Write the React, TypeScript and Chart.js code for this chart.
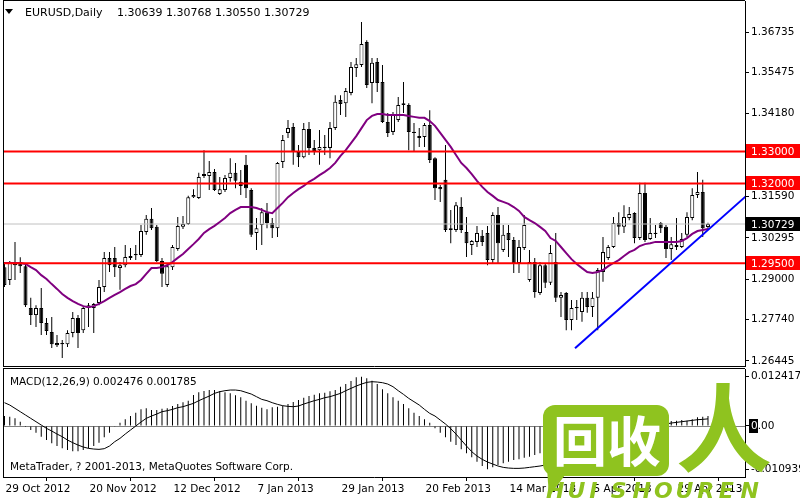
import React, { useEffect, useRef } from 'react';
import { Chart, registerables } from 'chart.js';
Chart.register(...registerables);

// ---------- DATA (EURUSD daily, bar index 0 = 29 Oct 2012) ----------
const opens = [
  1.2938,1.2898,1.2954,1.2954,1.2941,1.2810,1.2788,1.2810,1.2763,1.2735,
  1.2701,1.2697,1.2697,1.2732,1.2779,1.2741,1.2810,1.2810,1.2826,1.2876,
  1.2967,1.2967,1.2935,1.2944,1.2973,1.2979,1.2976,1.3048,1.3089,1.3064,
  1.2957,1.2882,1.2938,1.2995,1.3064,1.3073,1.3157,1.3154,1.3229,1.3223,
  1.3236,1.3167,1.3179,1.3217,1.3233,1.3205,1.3258,1.3179,1.3045,1.3070,
  1.3110,1.3076,1.3060,1.3267,1.3358,1.3376,1.3298,1.3282,1.3370,1.3311,
  1.3304,1.3314,1.3311,1.3373,1.3461,1.3451,1.3483,1.3561,1.3570,1.3642,
  1.3514,1.3580,1.3517,1.3392,1.3361,1.3398,1.3445,1.3445,1.3361,1.3342,
  1.3345,1.3383,1.3279,1.3189,1.3211,1.3054,1.3054,1.3126,1.3048,1.3007,
  1.3017,1.3036,1.3045,1.2960,1.3101,1.2992,1.3045,1.3023,1.2951,1.2998,
  1.2898,1.2954,1.2857,1.2944,1.2889,1.2954,1.2842,1.2857,1.2773,1.2813,
  1.2798,1.2842,1.2813,1.2842,1.2923,1.2967,1.3001,1.3076,1.3064,1.3092,
  1.3107,1.3029,1.3170,1.3026,1.3045,1.3076,1.3064,1.2995,1.3007,1.3001,
  1.3039,1.3092,1.3164,1.3173,1.30639,
];
const highs = [
  1.2954,1.2957,1.3017,1.2969,1.2948,1.2842,1.2819,1.2873,1.2779,1.2782,
  1.2726,1.2710,1.2741,1.2798,1.2788,1.2813,1.2826,1.2826,1.2898,1.2985,
  1.2985,1.3001,1.2954,1.3007,1.2998,1.3007,1.3070,1.3101,1.3123,1.3070,
  1.2967,1.2951,1.3007,1.3095,1.3098,1.3161,1.3182,1.3233,1.3304,1.3270,
  1.3245,1.3220,1.3226,1.3279,1.3264,1.3242,1.3289,1.3185,1.3092,1.3123,
  1.3139,1.3092,1.3267,1.3351,1.3398,1.3389,1.3320,1.3389,1.3392,1.3336,
  1.3367,1.3351,1.3392,1.3476,1.3476,1.3498,1.3580,1.3592,1.3705,1.3648,
  1.3592,1.3592,1.3570,1.3420,1.3423,1.3470,1.3517,1.3451,1.3389,1.3373,
  1.3389,1.3429,1.3282,1.3195,1.3320,1.3117,1.3142,1.3157,1.3095,1.3023,
  1.3067,1.3054,1.3067,1.3110,1.3126,1.3070,1.3070,1.3032,1.3023,1.3101,
  1.2992,1.2967,1.2954,1.2951,1.3007,1.3045,1.2860,1.2860,1.2835,1.2835,
  1.2860,1.2860,1.2860,1.2935,1.3032,1.3007,1.3095,1.3110,1.3132,1.3126,
  1.3110,1.3202,1.3202,1.3092,1.3070,1.3079,1.3070,1.3032,1.3092,1.3045,
  1.3110,1.3185,1.3236,1.3211,1.30768,
];
const lows = [
  1.2876,1.2882,1.2898,1.2920,1.2813,1.2757,1.2751,1.2726,1.2726,1.2685,
  1.2688,1.2654,1.2688,1.2719,1.2685,1.2732,1.2751,1.2732,1.2819,1.2860,
  1.2923,1.2907,1.2867,1.2938,1.2960,1.2960,1.2970,1.3039,1.3054,1.2954,
  1.2876,1.2876,1.2929,1.2989,1.3057,1.3070,1.3154,1.3151,1.3217,1.3179,
  1.3176,1.3164,1.3173,1.3205,1.3185,1.3164,1.3154,1.3032,1.2992,1.3007,
  1.3060,1.3029,1.3032,1.3248,1.3342,1.3258,1.3251,1.3279,1.3289,1.3289,
  1.3258,1.3289,1.3279,1.3367,1.3414,1.3408,1.3476,1.3533,1.3564,1.3498,
  1.3451,1.3486,1.3389,1.3345,1.3351,1.3392,1.3420,1.3304,1.3298,1.3314,
  1.3314,1.3264,1.3148,1.3142,1.3048,1.3013,1.3048,1.3045,1.2970,1.2976,
  1.3001,1.3004,1.2944,1.2951,1.2951,1.2985,1.2970,1.2920,1.2920,1.2992,
  1.2892,1.2842,1.2851,1.2873,1.2882,1.2829,1.2782,1.2741,1.2741,1.2773,
  1.2767,1.2795,1.2782,1.2741,1.2892,1.2960,1.2998,1.3039,1.3045,1.3085,
  1.3013,1.3023,1.3017,1.3023,1.3029,1.3045,1.2967,1.2960,1.2992,1.2998,
  1.3032,1.3085,1.3154,1.3032,1.30550,
];
const closes = [
  1.2882,1.2954,1.2944,1.2941,1.2819,1.2788,1.2810,1.2763,1.2738,1.2697,
  1.2694,1.2701,1.2732,1.2779,1.2732,1.2810,1.2819,1.2823,1.2876,1.2967,
  1.2944,1.2938,1.2944,1.2970,1.2967,1.2976,1.3051,1.3089,1.3060,1.2957,
  1.2917,1.2941,1.3001,1.3067,1.3073,1.3157,1.3164,1.3220,1.3223,1.3236,
  1.3179,1.3182,1.3217,1.3233,1.3208,1.3192,1.3185,1.3039,1.3060,1.3110,
  1.3076,1.3060,1.3264,1.3336,1.3373,1.3298,1.3282,1.3370,1.3311,1.3301,
  1.3314,1.3311,1.3373,1.3455,1.3448,1.3489,1.3564,1.3573,1.3636,1.3508,
  1.3577,1.3514,1.3392,1.3358,1.3414,1.3445,1.3451,1.3361,1.3358,1.3348,
  1.3383,1.3273,1.3185,1.3182,1.3054,1.3060,1.3132,1.3054,1.3013,1.3020,
  1.3045,1.3017,1.2960,1.3101,1.3013,1.3039,1.3023,1.2951,1.3001,1.3070,
  1.2954,1.2860,1.2944,1.2889,1.2982,1.2842,1.2851,1.2773,1.2810,1.2810,
  1.2842,1.2813,1.2842,1.2929,1.2985,1.3001,1.3076,1.3064,1.3095,1.3104,
  1.3029,1.3170,1.3023,1.3045,1.3042,1.3060,1.2995,1.3010,1.3001,1.3026,
  1.3095,1.3164,1.3173,1.3060,1.30729,
];
const maValues = [
  1.2951,1.2951,1.2951,1.2951,1.2948,1.2938,1.2929,1.2913,1.2901,1.2885,
  1.2870,1.2854,1.2842,1.2832,1.2823,1.2816,1.2813,1.2816,1.2823,1.2832,
  1.2842,1.2851,1.2860,1.2870,1.2879,1.2885,1.2898,1.2917,1.2935,1.2935,
  1.2938,1.2944,1.2954,1.2967,1.2979,1.2995,1.3010,1.3026,1.3045,1.3057,
  1.3067,1.3079,1.3092,1.3107,1.3117,1.3126,1.3126,1.3126,1.3123,1.3117,
  1.3110,1.3107,1.3123,1.3139,1.3157,1.3170,1.3182,1.3192,1.3205,1.3214,
  1.3226,1.3236,1.3248,1.3264,1.3286,1.3304,1.3326,1.3348,1.3373,1.3398,
  1.3411,1.3417,1.3417,1.3414,1.3414,1.3414,1.3414,1.3411,1.3408,1.3405,
  1.3405,1.3395,1.3380,1.3358,1.3336,1.3314,1.3289,1.3264,1.3248,1.3229,
  1.3208,1.3189,1.3173,1.3161,1.3148,1.3142,1.3136,1.3126,1.3114,1.3095,
  1.3085,1.3076,1.3064,1.3051,1.3029,1.3020,1.3001,1.2982,1.2963,1.2948,
  1.2935,1.2923,1.2920,1.2923,1.2929,1.2941,1.2951,1.2960,1.2973,1.2985,
  1.2992,1.3004,1.3010,1.3013,1.3017,1.3017,1.3017,1.3017,1.3017,1.3020,
  1.3029,1.3042,1.3051,1.3054,1.3057,
];
const macdHist = [
  0.002496,0.002328,0.001908,0.001067,-0.000026,-0.001035,-0.001707,-0.002716,-0.003557,-0.004398,
  -0.00507,-0.005659,-0.006079,-0.006415,-0.006415,-0.006079,-0.005659,-0.00507,-0.004229,-0.002884,
  -0.001707,-0.000194,0.000815,0.001656,0.002496,0.003337,0.004178,0.00443,0.004009,0.004009,
  0.004346,0.00443,0.005018,0.005523,0.005943,0.006363,0.007793,0.008465,0.008801,0.009054,
  0.009054,0.008801,0.008465,0.008213,0.007709,0.007204,0.006363,0.005691,0.005102,0.004598,
  0.004178,0.004682,0.00485,0.005102,0.005523,0.006027,0.006532,0.00712,0.00754,0.007877,
  0.008213,0.008381,0.008717,0.009054,0.009894,0.010567,0.011324,0.012248,0.012417,0.011996,
  0.011408,0.010567,0.009222,0.008213,0.007204,0.006363,0.005523,0.00443,0.003337,0.002496,
  0.001656,0.000815,-0.000614,-0.001707,-0.002884,-0.003977,-0.004818,-0.005911,-0.00692,-0.007928,
  -0.009021,-0.010114,-0.010939,-0.01045,-0.009862,-0.009442,-0.009021,-0.008601,-0.008433,-0.008013,
  -0.00776,-0.00734,-0.00692,-0.006499,-0.006079,-0.005743,-0.005659,-0.005743,-0.005659,-0.005406,
  -0.00507,-0.004566,-0.003977,-0.003221,-0.00238,-0.001707,-0.001035,-0.000614,-0.000194,0.000142,
  0.000647,0.000983,0.000815,0.000647,0.000479,0.000479,0.001067,0.001235,0.001319,0.001487,
  0.001319,0.001656,0.00216,0.002328,0.002476,
];
const macdSignal = [
  0.005859,0.00527,0.00443,0.003589,0.002748,0.001908,0.001067,0.000226,-0.000614,-0.001287,
  -0.002044,-0.002716,-0.003557,-0.004229,-0.004818,-0.005322,-0.005659,-0.005827,-0.005911,-0.005743,
  -0.00507,-0.003977,-0.003136,-0.002044,-0.001035,-0.000026,0.000983,0.001908,0.002496,0.003001,
  0.003589,0.003841,0.004178,0.004598,0.00485,0.00527,0.005691,0.006363,0.006952,0.00754,
  0.008213,0.008633,0.008886,0.009054,0.009054,0.008886,0.008465,0.008045,0.007372,0.0067,
  0.006363,0.005859,0.005439,0.005102,0.004934,0.00485,0.005018,0.005523,0.005943,0.006363,
  0.0067,0.00712,0.007372,0.007793,0.008213,0.008886,0.009474,0.010063,0.010567,0.010987,
  0.011155,0.011071,0.010903,0.010567,0.009894,0.008886,0.007961,0.006952,0.006111,0.00527,
  0.004178,0.003169,0.002496,0.001487,0.000479,-0.000698,-0.002044,-0.003557,-0.00507,-0.006499,
  -0.007592,-0.008433,-0.009105,-0.00961,-0.010114,-0.01045,-0.010619,-0.010703,-0.010703,-0.010619,
  -0.01045,-0.010282,-0.010114,-0.009862,-0.00961,-0.009274,-0.008937,-0.008601,-0.008181,-0.00776,
  -0.00734,-0.00692,-0.006499,-0.005911,-0.005406,-0.004818,-0.004229,-0.003641,-0.003052,-0.002464,
  -0.001875,-0.001371,-0.000867,-0.000446,-0.00011,0.000226,0.000479,0.00073,0.000899,0.001067,
  0.001235,0.001403,0.001571,0.001656,0.001785,
];
const priceTicks = [1.36735, 1.35475, 1.3418, 1.32885, 1.3159, 1.30295, 1.29, 1.2774, 1.26445];
const levelLines = [1.33, 1.32, 1.295];
const trendX = [108.67, 141.3];
const trendY = [1.2684, 1.3161];
const macdTicks = [0.012417, 0, -0.010939];
const timeTickIdx = [0, 16, 32, 48, 64, 80, 96, 112, 128];
const timeTickLabels = ['29 Oct 2012', '20 Nov 2012', '12 Dec 2012', '7 Jan 2013', '29 Jan 2013', '20 Feb 2013', '14 Mar 2013', '5 Apr 2013', '29 Apr 2013'];

// ---------- LAYOUT ----------
const XMIN = -0.286, XMAX = 141.05;
const PMIN = 1.26288, PMAX = 1.37705;
const MMIN = -0.012881, MMAX = 0.014359;
const FAM = '"DejaVu Sans", sans-serif';
const last = closes.length - 1;
const GREEN = '#8fc31f';

Chart.defaults.font.family = FAM;
Chart.defaults.font.size = 10.5;

const mainDecor = {
  id: 'mainDecor',
  afterDraw(chart: any) {
    const { ctx, chartArea: a } = chart;
    const y = chart.scales.y;
    ctx.save();
    ctx.strokeStyle = '#000';
    ctx.lineWidth = 1;
    ctx.beginPath();
    ctx.moveTo(a.left + 0.5, 0); ctx.lineTo(a.left + 0.5, a.bottom + 1);
    ctx.moveTo(a.left, 0.5); ctx.lineTo(a.right, 0.5);
    ctx.moveTo(a.left, a.bottom + 0.5); ctx.lineTo(a.right + 1, a.bottom + 0.5);
    ctx.stroke();
    ctx.font = `10.5px ${FAM}`;
    ctx.textBaseline = 'middle';
    ctx.textAlign = 'left';
    levelLines.forEach((lv) => {
      const py = Math.round(y.getPixelForValue(lv));
      ctx.fillStyle = '#ff0000';
      ctx.fillRect(a.right + 1, py - 7, 55, 14);
      ctx.fillStyle = '#ffffff';
      ctx.fillText(lv.toFixed(5), a.right + 6, py + 1);
    });
    const pb = Math.round(y.getPixelForValue(closes[last]));
    ctx.fillStyle = '#000';
    ctx.fillRect(a.right + 1, pb - 7, 55, 14);
    ctx.fillStyle = '#fff';
    ctx.fillText(closes[last].toFixed(5), a.right + 6, pb + 1);
    // header
    ctx.fillStyle = '#000';
    ctx.beginPath(); ctx.moveTo(5, 9); ctx.lineTo(13, 9); ctx.lineTo(9, 14); ctx.closePath(); ctx.fill();
    ctx.font = `11px ${FAM}`;
    ctx.textBaseline = 'alphabetic';
    ctx.fillText('EURUSD,Daily', 25, 16);
    ctx.fillText(`${opens[last].toFixed(5)} ${highs[last].toFixed(5)} ${lows[last].toFixed(5)} ${closes[last].toFixed(5)}`, 117, 16);
    ctx.restore();
  },
};

const macdDecor = {
  id: 'macdDecor',
  beforeDatasetsDraw(chart: any) {
    const { ctx, chartArea: a } = chart;
    const y0 = Math.round(chart.scales.y.getPixelForValue(0)) + 0.5;
    ctx.save();
    ctx.strokeStyle = '#808080';
    ctx.lineWidth = 1;
    ctx.beginPath(); ctx.moveTo(a.left, y0); ctx.lineTo(a.right, y0); ctx.stroke();
    ctx.restore();
  },
  afterDraw(chart: any) {
    const { ctx, chartArea: a } = chart;
    const y = chart.scales.y;
    ctx.save();
    ctx.strokeStyle = '#000';
    ctx.lineWidth = 1;
    ctx.beginPath();
    ctx.moveTo(a.left + 0.5, a.top - 1); ctx.lineTo(a.left + 0.5, a.bottom + 1);
    ctx.moveTo(a.left, a.top - 0.5); ctx.lineTo(a.right, a.top - 0.5);
    ctx.stroke();
    ctx.fillStyle = '#000';
    ctx.font = `10.5px ${FAM}`;
    ctx.textBaseline = 'middle';
    ctx.textAlign = 'left';
    ctx.fillText(`MACD(12,26,9) ${macdHist[last].toFixed(6)} ${macdSignal[last].toFixed(6)}`, 10, 14);
    ctx.fillText('MetaTrader, ? 2001-2013, MetaQuotes Software Corp.', 10, 99);
    const y0 = y.getPixelForValue(0);
    ctx.fillRect(a.right + 4, Math.round(y0) - 7, 9, 14);
    ctx.fillStyle = '#fff';
    ctx.fillText('0', a.right + 6, y0);
    // watermark
    const top = 368;
    ctx.fillStyle = GREEN;
    ctx.beginPath();
    (ctx as any).roundRect(543, 405 - top, 126, 71, 12);
    ctx.fill();
    ctx.beginPath();
    ctx.moveTo(547, 468 - top); ctx.lineTo(570, 468 - top); ctx.lineTo(549, 497 - top); ctx.closePath();
    ctx.fill();
    ctx.fillStyle = '#fff';
    ctx.font = `bold 54px "Noto Sans CJK SC"`;
    ctx.textBaseline = 'middle';
    ctx.fillText('回收', 553, 441 - top);
    ctx.fillStyle = GREEN;
    ctx.font = `bold 96px "Noto Sans CJK SC"`;
    ctx.fillText('人', 676, 428 - top);
    ctx.font = `italic bold 22px ${FAM}`;
    ctx.textBaseline = 'alphabetic';
    const word = 'HUISHOUREN';
    for (let k = 0; k < word.length; k++) ctx.fillText(word[k], 546 + k * 21.6, 498 - top);
    ctx.restore();
  },
};

function mainConfig(): any {
  const wick = lows.map((l, i) => ({ x: i, y: [l, highs[i]] }));
  const body = opens.map((o, i) => {
    const c = closes[i];
    let lo = Math.min(o, c), hi = Math.max(o, c);
    if (hi - lo < 0.0004) { const m = (hi + lo) / 2; lo = m - 0.0002; hi = m + 0.0002; }
    return { x: i, y: [lo, hi] };
  });
  const bodyColors = opens.map((o, i) => (closes[i] >= o ? '#ffffff' : '#000000'));
  const hline = (v: number) => [{ x: XMIN, y: v }, { x: XMAX, y: v }];
  return {
    type: 'bar',
    data: {
      datasets: [
        { type: 'bar', data: wick, backgroundColor: '#000', barThickness: 1, grouped: false, inflateAmount: 0, borderWidth: 0, order: 6 },
        { type: 'bar', data: body, backgroundColor: bodyColors, borderColor: '#000', borderWidth: 1, borderSkipped: false, barThickness: 4, grouped: false, inflateAmount: 0, order: 5 },
        { type: 'line', data: hline(closes[last]), borderColor: '#c0c0c0', borderWidth: 1, pointRadius: 0, order: 4 },
        { type: 'line', data: maValues.map((v, i) => ({ x: i, y: v })), borderColor: '#800080', borderWidth: 2, pointRadius: 0, tension: 0, order: 3 },
        ...levelLines.map((lv) => ({ type: 'line', data: hline(lv), borderColor: '#ff0000', borderWidth: 2, pointRadius: 0, order: 2 })),
        { type: 'line', data: trendX.map((x, k) => ({ x, y: trendY[k] })), borderColor: '#0000ff', borderWidth: 2, pointRadius: 0, order: 1 },
      ],
    },
    options: {
      animation: false,
      responsive: false,
      devicePixelRatio: 1,
      events: [],
      layout: { padding: { left: 3, right: 0, top: 1, bottom: 2 } },
      plugins: { legend: { display: false }, tooltip: { enabled: false } },
      scales: {
        x: { type: 'linear', min: XMIN, max: XMAX, offset: false, display: false },
        y: {
          position: 'right', min: PMIN, max: PMAX,
          afterBuildTicks: (s: any) => { s.ticks = priceTicks.map((v) => ({ value: v })); },
          afterFit: (s: any) => { s.width = 55; s.paddingTop = 0; s.paddingBottom = 0; },
          ticks: { autoSkip: false, padding: 2, color: '#000', font: { family: FAM, size: 10.5 }, callback: (v: any) => Number(v).toFixed(5) },
          grid: { drawOnChartArea: false, drawTicks: true, tickLength: 4, color: '#000' },
          border: { display: true, color: '#000' },
        },
      },
    },
    plugins: [mainDecor],
  };
}

function macdConfig(): any {
  return {
    type: 'bar',
    data: {
      datasets: [
        { type: 'line', data: macdSignal.map((v, i) => ({ x: i, y: v })), borderColor: '#000', borderWidth: 1, pointRadius: 0, tension: 0, order: 1 },
        { type: 'bar', data: macdHist.map((v, i) => ({ x: i, y: v })), backgroundColor: '#000', barThickness: 1, grouped: false, inflateAmount: 0, borderWidth: 0, order: 2 },
      ],
    },
    options: {
      animation: false,
      responsive: false,
      devicePixelRatio: 1,
      events: [],
      layout: { padding: { left: 3, right: 0, top: 1, bottom: 3 } },
      plugins: { legend: { display: false }, tooltip: { enabled: false } },
      scales: {
        x: {
          type: 'linear', min: XMIN, max: XMAX, offset: false, position: 'bottom',
          afterBuildTicks: (s: any) => { s.ticks = timeTickIdx.map((v) => ({ value: v })); },
          afterFit: (s: any) => { s.height = 20; s.paddingLeft = 0; s.paddingRight = 0; },
          ticks: { autoSkip: false, maxRotation: 0, minRotation: 0, align: 'start', padding: 2, labelOffset: 1, color: '#000', font: { family: FAM, size: 10.5 }, callback: (_v: any, i: number) => timeTickLabels[i] },
          grid: { drawOnChartArea: false, drawTicks: true, tickLength: 4, color: '#000' },
          border: { display: true, color: '#000' },
        },
        y: {
          position: 'right', min: MMIN, max: MMAX,
          afterBuildTicks: (s: any) => { s.ticks = macdTicks.map((v) => ({ value: v })); },
          afterFit: (s: any) => { s.width = 55; s.paddingTop = 0; s.paddingBottom = 0; },
          ticks: { autoSkip: false, padding: 2, color: '#000', font: { family: FAM, size: 10.5 }, callback: (v: any) => (Number(v) === 0 ? '0.00' : Number(v).toFixed(6)) },
          grid: { drawOnChartArea: false, drawTicks: true, tickLength: 4, color: '#000' },
          border: { display: true, color: '#000' },
        },
      },
    },
    plugins: [macdDecor],
  };
}

export default function App() {
  const mainRef = useRef<HTMLCanvasElement>(null);
  const macdRef = useRef<HTMLCanvasElement>(null);
  useEffect(() => {
    const c1 = new Chart(mainRef.current as HTMLCanvasElement, mainConfig());
    const c2 = new Chart(macdRef.current as HTMLCanvasElement, macdConfig());
    return () => { c1.destroy(); c2.destroy(); };
  }, []);
  return (
    <div style={{ position: 'fixed', left: 0, top: 0, width: 800, height: 500, background: '#fff', overflow: 'hidden' }}>
      <canvas ref={mainRef} width={800} height={368} style={{ position: 'absolute', left: 0, top: 0, width: 800, height: 368 }} />
      <canvas ref={macdRef} width={800} height={132} style={{ position: 'absolute', left: 0, top: 368, width: 800, height: 132 }} />
    </div>
  );
}
